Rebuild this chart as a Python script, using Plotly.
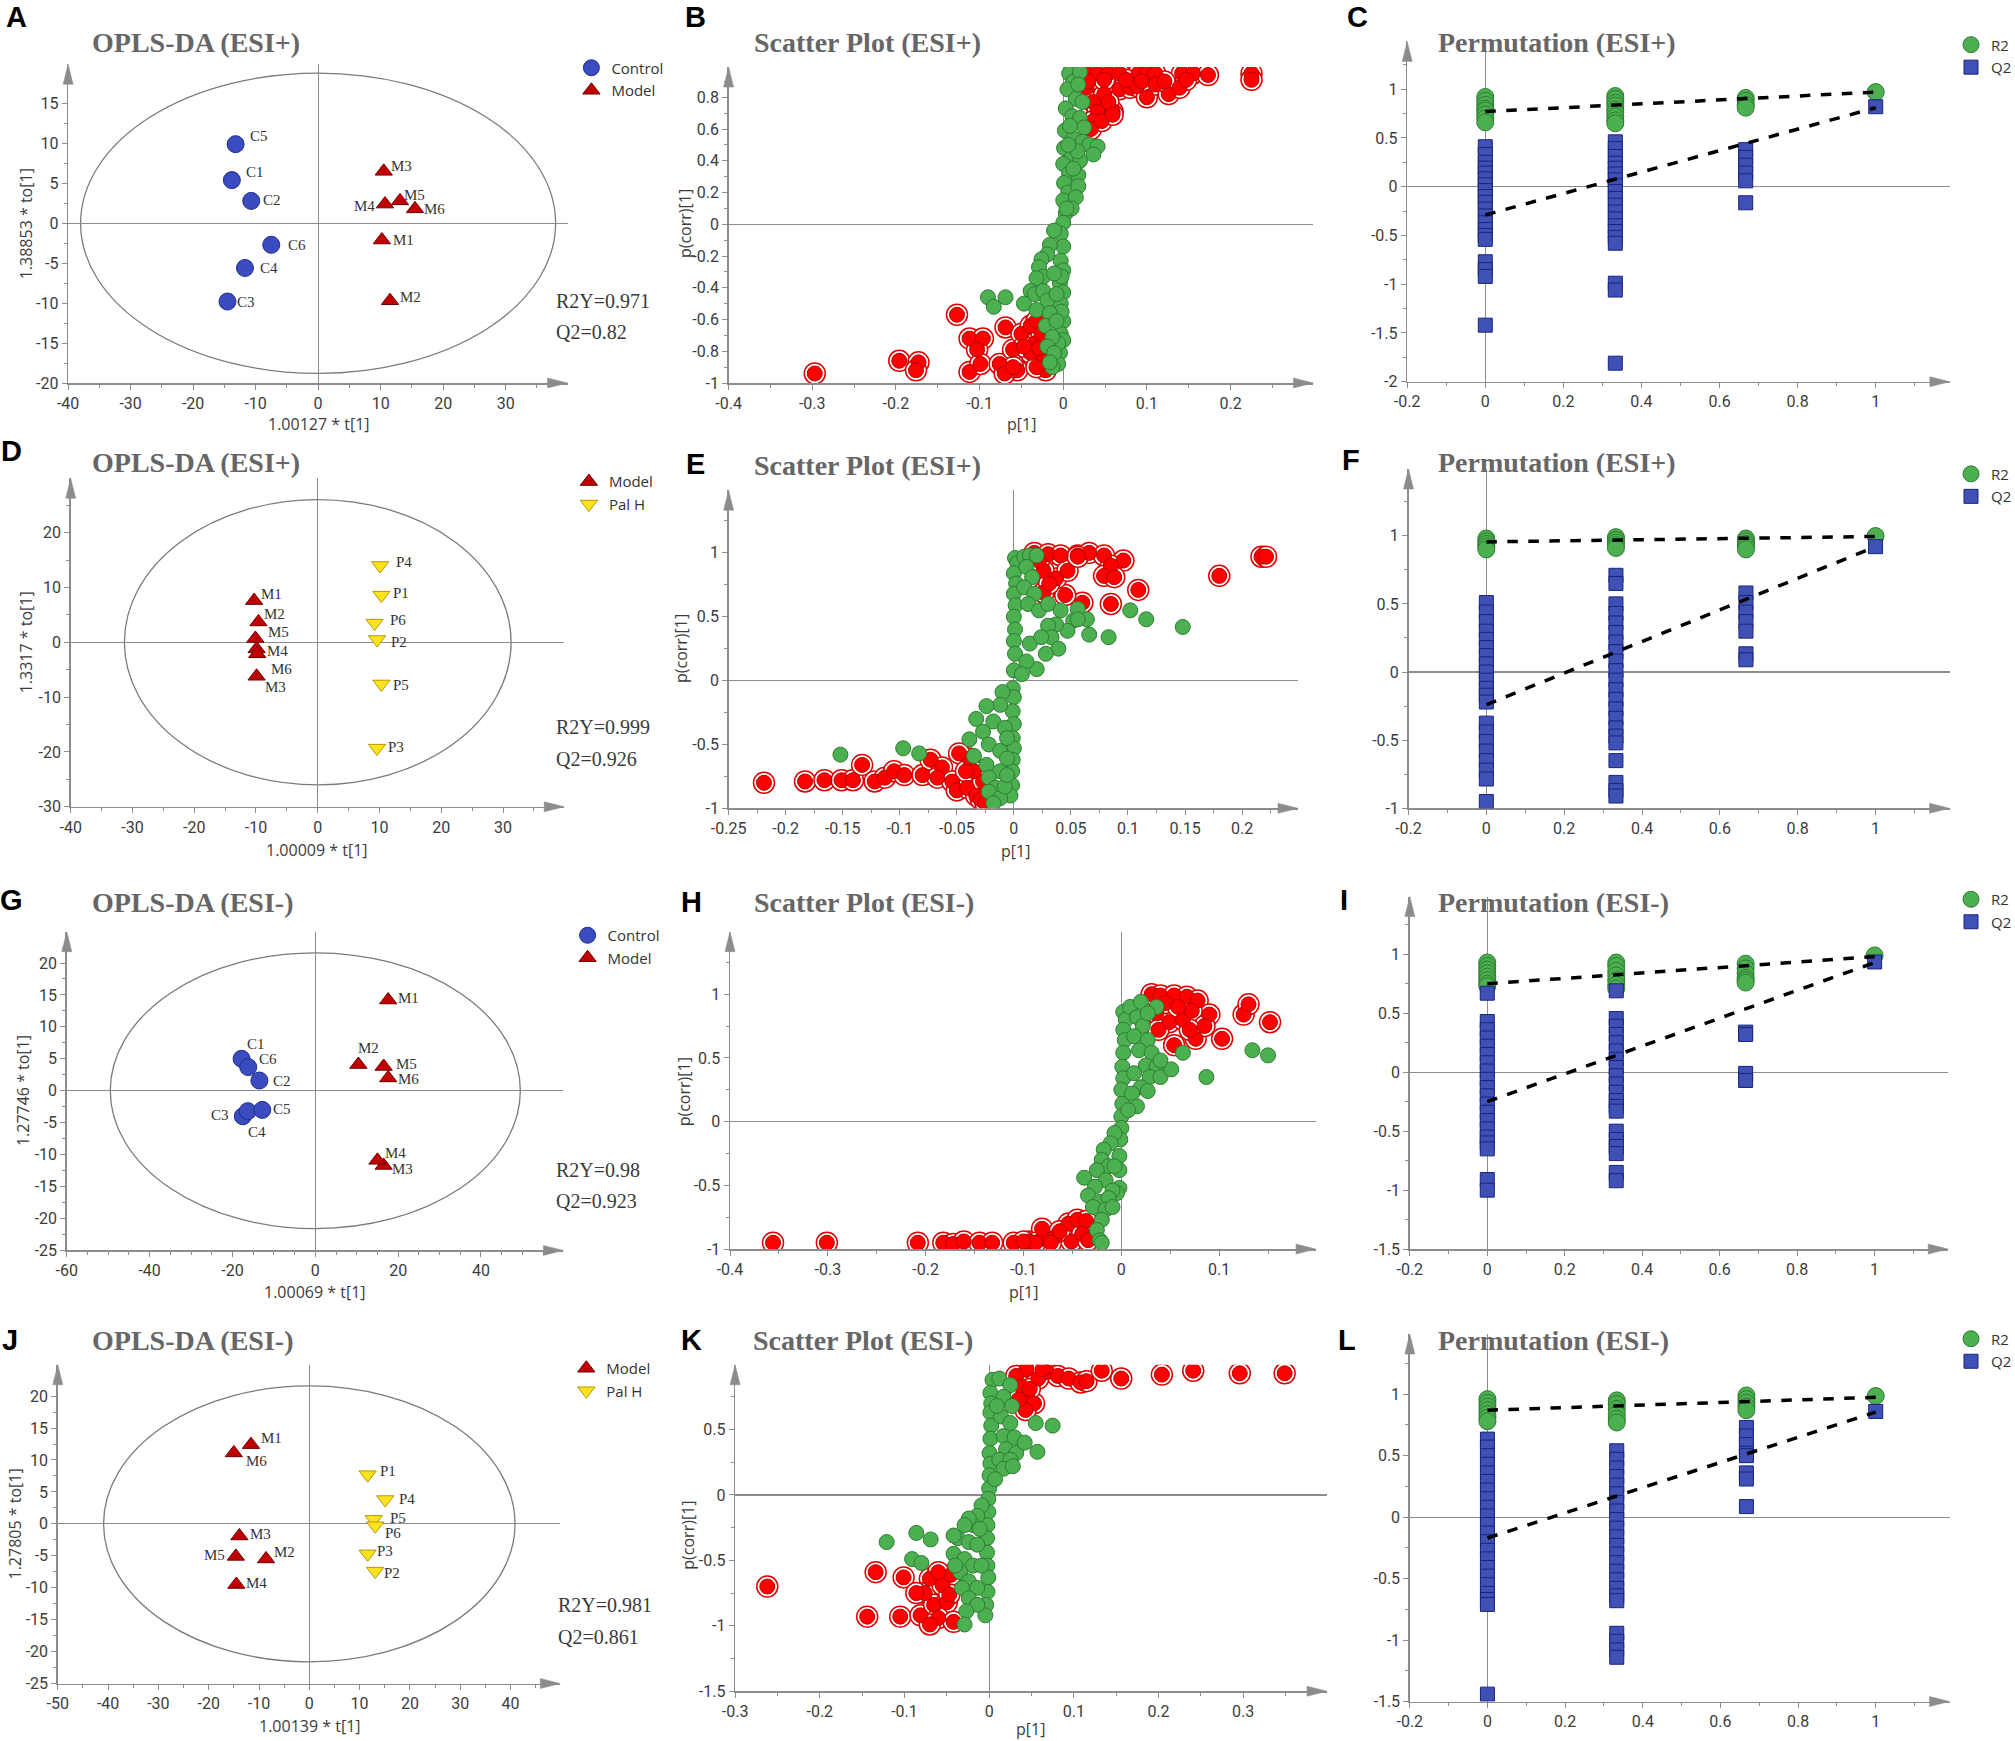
import plotly.graph_objects as go

W, H = 2015, 1741

# ======================= DATA =======================
# ---- Panel A : OPLS-DA (ESI+)  Control vs Model ----
A_ctrl_lab = ["C1", "C2", "C3", "C4", "C5", "C6"]
A_ctrl_x = [-13.8, -10.7, -14.5, -11.7, -13.2, -7.5]
A_ctrl_y = [5.4, 2.8, -9.8, -5.6, 9.9, -2.7]
A_mod_lab = ["M1", "M2", "M3", "M4", "M5", "M6"]
A_mod_x = [10.2, 11.5, 10.5, 10.7, 13.1, 15.5]
A_mod_y = [-2.1, -9.7, 6.5, 2.4, 2.8, 1.8]
A_ellipse = [38.0, 18.8]
A_stats = ["R2Y=0.971", "Q2=0.82"]

# ---- Panel D : OPLS-DA (ESI+)  Model vs Pal H ----
D_mod_lab = ["M1", "M2", "M3", "M4", "M5", "M6"]
D_mod_x = [-10.3, -9.6, -9.9, -9.9, -10.1, -9.8]
D_mod_y = [7.6, 3.7, -6.2, -1.2, 0.7, -2.1]
D_pal_lab = ["P1", "P2", "P3", "P4", "P5", "P6"]
D_pal_x = [10.3, 9.6, 9.6, 10.1, 10.3, 9.2]
D_pal_y = [8.6, 0.5, -19.3, 14.0, -7.6, 3.5]
D_ellipse = [31.3, 26.0]
D_stats = ["R2Y=0.999", "Q2=0.926"]

# ---- Panel G : OPLS-DA (ESI-)  Control vs Model ----
G_ctrl_lab = ["C1", "C2", "C3", "C4", "C5", "C6"]
G_ctrl_x = [-17.8, -13.5, -17.5, -16.3, -12.8, -16.2]
G_ctrl_y = [5.0, 1.6, -4.0, -3.2, -3.0, 3.7]
G_mod_lab = ["M1", "M2", "M3", "M4", "M5", "M6"]
G_mod_x = [17.6, 10.4, 16.5, 15.0, 16.5, 17.6]
G_mod_y = [14.2, 4.1, -11.7, -10.9, 3.8, 2.0]
G_ellipse = [49.5, 21.6]
G_stats = ["R2Y=0.98", "Q2=0.923"]

# ---- Panel J : OPLS-DA (ESI-)  Model vs Pal H ----
J_mod_lab = ["M1", "M2", "M3", "M4", "M5", "M6"]
J_mod_x = [-11.6, -8.6, -13.9, -14.5, -14.6, -15.0]
J_mod_y = [12.4, -5.5, -1.9, -9.5, -5.1, 11.1]
J_pal_lab = ["P1", "P2", "P3", "P4", "P5", "P6"]
J_pal_x = [11.6, 13.1, 11.6, 15.1, 12.8, 13.1]
J_pal_y = [7.7, -7.4, -4.7, 3.8, 0.7, -0.3]
J_ellipse = [40.9, 21.6]
J_stats = ["R2Y=0.981", "Q2=0.861"]

# ---- S-plots: (p[1], p(corr)[1]) ----
B_green = [(0.007, 0.95), (0.012, 0.90), (0.005, 0.85), (0.015, 0.79), (0.003, 0.73), (0.011, 0.68),
           (0.002, 0.59), (0.012, 0.54), (0.001, 0.48), (0.010, 0.42), (0.000, 0.38), (0.007, 0.32),
           (0.001, 0.26), (0.006, 0.20), (0.000, 0.15), (0.003, 0.07), (0.000, 0.01), (-0.003, -0.06),
           (0.000, -0.14), (-0.003, -0.23), (0.000, -0.29), (-0.004, -0.37), (0.000, -0.43), (-0.003, -0.50),
           (0.000, -0.61), (-0.003, -0.69), (0.000, -0.73), (-0.004, -0.81), (-0.006, -0.88), (-0.013, -0.90),
           (0.020, 0.96), (0.018, 0.88), (0.023, 0.77), (0.020, 0.67), (0.025, 0.61), (0.023, 0.52),
           (0.031, 0.50), (0.041, 0.49), (0.036, 0.44), (0.020, 0.40), (0.018, 0.31), (0.018, 0.24),
           (0.015, 0.17), (0.010, 0.10), (0.012, 0.35), (0.017, 0.46), (0.008, 0.62), (0.006, 0.50),
           (0.004, 0.10), (-0.002, -0.33), (-0.002, -0.55), (-0.006, -0.75),
           (-0.011, -0.04), (-0.016, -0.13), (-0.019, -0.19), (-0.026, -0.22), (-0.029, -0.27), (-0.024, -0.33),
           (-0.032, -0.34), (-0.039, -0.42), (-0.034, -0.44), (-0.024, -0.42), (-0.019, -0.48), (-0.047, -0.50),
           (-0.032, -0.54), (-0.016, -0.56), (-0.021, -0.64), (-0.013, -0.71), (-0.019, -0.77), (-0.011, -0.81),
           (-0.016, -0.87), (-0.008, -0.61), (-0.011, -0.31), (-0.008, -0.44),
           (-0.090, -0.46), (-0.083, -0.52), (-0.069, -0.46)]
B_red = [(0.028, 0.95), (0.041, 0.95), (0.054, 0.95), (0.067, 0.95), (0.090, 0.95), (0.100, 0.95),
         (0.110, 0.95), (0.142, 0.95), (0.155, 0.95), (0.173, 0.94), (0.225, 0.95), (0.225, 0.91),
         (0.028, 0.86), (0.036, 0.77), (0.041, 0.71), (0.036, 0.65), (0.033, 0.60), (0.059, 0.71),
         (0.067, 0.85), (0.080, 0.86), (0.088, 0.87), (0.100, 0.80), (0.110, 0.88), (0.126, 0.82),
         (0.139, 0.86), (0.049, 0.82), (0.054, 0.77), (0.046, 0.65), (0.059, 0.69), (0.030, 0.90),
         (0.049, 0.91), (0.075, 0.91), (0.094, 0.90), (0.121, 0.90), (0.147, 0.91),
         (-0.297, -0.94), (-0.196, -0.86), (-0.173, -0.87), (-0.176, -0.92), (-0.127, -0.57), (-0.112, -0.72),
         (-0.096, -0.72), (-0.103, -0.79), (-0.112, -0.93), (-0.099, -0.88), (-0.069, -0.65), (-0.076, -0.88),
         (-0.060, -0.79), (-0.055, -0.92), (-0.070, -0.94), (-0.050, -0.69), (-0.039, -0.64), (-0.032, -0.61),
         (-0.034, -0.75), (-0.026, -0.69), (-0.024, -0.86), (-0.021, -0.92), (-0.039, -0.81), (-0.047, -0.77),
         (-0.032, -0.90), (-0.029, -0.78), (-0.060, -0.90)]

E_green = [(0.001, 0.96), (0.003, 0.92), (0.000, 0.84), (0.002, 0.76), (0.000, 0.68), (0.0015, 0.59),
           (0.000, 0.50), (0.001, 0.40), (0.000, 0.31), (0.001, 0.21), (0.000, 0.08), (-0.001, -0.06),
           (0.000, -0.13), (-0.001, -0.24), (0.000, -0.34), (-0.001, -0.45), (0.000, -0.53), (-0.001, -0.62),
           (-0.0015, -0.71), (-0.0015, -0.82), (-0.003, -0.90),
           (0.009, 0.97), (0.014, 0.98), (0.020, 0.98), (0.011, 0.89), (0.016, 0.81), (0.009, 0.73),
           (0.018, 0.68), (0.0125, 0.60), (0.022, 0.55), (0.030, 0.60), (0.041, 0.55), (0.056, 0.56),
           (0.064, 0.48), (0.052, 0.47), (0.047, 0.39), (0.037, 0.44), (0.030, 0.43), (0.033, 0.34),
           (0.039, 0.25), (0.028, 0.21), (0.020, 0.09), (0.014, 0.29), (0.011, 0.15), (0.007, 0.05),
           (0.024, 0.34), (0.066, 0.36), (0.056, 0.48), (0.083, 0.34), (0.102, 0.55), (0.116, 0.48),
           (0.148, 0.42),
           (-0.010, -0.09), (-0.012, -0.19), (-0.024, -0.20), (-0.033, -0.30), (-0.018, -0.32), (-0.008, -0.37),
           (-0.027, -0.40), (-0.039, -0.46), (-0.022, -0.50), (-0.012, -0.55), (-0.035, -0.59), (-0.024, -0.66),
           (-0.012, -0.71), (-0.022, -0.76), (-0.016, -0.84), (-0.022, -0.87), (-0.012, -0.92), (-0.018, -0.96),
           (-0.008, -0.83), (-0.006, -0.74), (-0.006, -0.61), (-0.006, -0.45),
           (-0.152, -0.58), (-0.097, -0.53), (-0.083, -0.57)]
E_red = [(0.018, 1.00), (0.030, 0.99), (0.041, 0.98), (0.056, 0.98), (0.066, 1.00), (0.079, 0.98),
         (0.096, 0.94), (0.085, 0.90), (0.079, 0.82), (0.088, 0.81), (0.109, 0.71), (0.085, 0.60),
         (0.060, 0.61), (0.045, 0.67), (0.026, 0.69), (0.037, 0.80), (0.047, 0.86), (0.026, 0.86),
         (0.022, 0.94), (0.056, 0.97), (0.031, 0.76), (0.180, 0.82), (0.217, 0.97), (0.221, 0.97),
         (-0.219, -0.80), (-0.183, -0.79), (-0.166, -0.78), (-0.151, -0.78), (-0.141, -0.78), (-0.133, -0.66),
         (-0.122, -0.79), (-0.113, -0.76), (-0.105, -0.71), (-0.096, -0.74), (-0.080, -0.74), (-0.073, -0.62),
         (-0.063, -0.68), (-0.067, -0.76), (-0.054, -0.79), (-0.050, -0.86), (-0.041, -0.84), (-0.039, -0.61),
         (-0.035, -0.71), (-0.033, -0.90), (-0.029, -0.93), (-0.025, -0.96), (-0.048, -0.57), (-0.042, -0.71),
         (-0.027, -0.79)]

H_green = [(0.002, 0.86), (0.0045, 0.80), (0.002, 0.72), (0.0035, 0.64), (0.002, 0.54), (0.001, 0.43),
           (0.002, 0.34), (0.000, 0.25), (0.001, 0.14), (0.000, 0.04), (0.000, -0.05), (-0.001, -0.14),
           (-0.002, -0.27), (-0.002, -0.38), (-0.002, -0.52), (-0.0045, -0.56),
           (0.009, 0.90), (0.020, 0.94), (0.016, 0.82), (0.022, 0.75), (0.013, 0.67), (0.027, 0.64),
           (0.018, 0.56), (0.031, 0.54), (0.025, 0.44), (0.036, 0.43), (0.013, 0.38), (0.029, 0.35),
           (0.020, 0.27), (0.027, 0.24), (0.011, 0.22), (0.016, 0.12), (0.007, 0.09), (0.040, 0.35),
           (0.051, 0.41), (0.040, 0.48), (0.063, 0.54), (0.087, 0.35), (0.134, 0.56), (0.150, 0.52),
           (0.036, 0.90), (0.027, 0.85),
           (-0.007, -0.09), (-0.011, -0.17), (-0.018, -0.22), (-0.020, -0.30), (-0.013, -0.35), (-0.025, -0.38),
           (-0.038, -0.44), (-0.016, -0.46), (-0.027, -0.51), (-0.009, -0.54), (-0.034, -0.58), (-0.022, -0.63),
           (-0.013, -0.60), (-0.029, -0.67), (-0.016, -0.69), (-0.020, -0.77), (-0.025, -0.85), (-0.022, -0.93),
           (-0.020, -0.95), (-0.009, -0.67), (-0.007, -0.35)]
H_red = [(-0.356, -0.95), (-0.301, -0.95), (-0.208, -0.95), (-0.182, -0.95), (-0.172, -0.96), (-0.161, -0.94),
         (-0.145, -0.95), (-0.132, -0.95), (-0.110, -0.95), (-0.094, -0.94), (-0.081, -0.92), (-0.081, -0.84),
         (-0.067, -0.90), (-0.054, -0.80), (-0.045, -0.77), (-0.036, -0.78), (-0.051, -0.94), (-0.063, -0.86),
         (-0.040, -0.88), (-0.034, -0.93), (-0.072, -0.95), (-0.088, -0.95), (-0.100, -0.94),
         (0.031, 1.00), (0.040, 0.99), (0.054, 0.99), (0.067, 0.98), (0.078, 0.95), (0.090, 0.84),
         (0.103, 0.65), (0.076, 0.65), (0.054, 0.60), (0.049, 0.78), (0.063, 0.80), (0.036, 0.85),
         (0.072, 0.87), (0.045, 0.93), (0.058, 0.90), (0.085, 0.75), (0.070, 0.72), (0.038, 0.72),
         (0.125, 0.84), (0.130, 0.92), (0.152, 0.78)]

K_green = [(0.004, 0.88), (0.0015, 0.78), (0.0025, 0.70), (0.0015, 0.63), (0.0025, 0.53), (0.0015, 0.43),
           (0.0005, 0.32), (0.0015, 0.24), (0.0005, 0.15), (0.000, 0.05), (-0.001, -0.03), (-0.001, -0.13),
           (-0.002, -0.23), (-0.0025, -0.33), (-0.0025, -0.44), (-0.002, -0.54), (-0.001, -0.63), (-0.002, -0.74),
           (-0.0035, -0.84), (-0.0045, -0.92),
           (0.012, 0.89), (0.025, 0.84), (0.017, 0.75), (0.027, 0.68), (0.014, 0.60), (0.025, 0.55),
           (0.017, 0.45), (0.030, 0.44), (0.020, 0.35), (0.032, 0.32), (0.012, 0.27), (0.025, 0.27),
           (0.017, 0.20), (0.007, 0.12), (0.028, 0.22), (0.055, 0.55), (0.075, 0.53), (0.042, 0.40),
           (0.057, 0.33), (0.009, 0.68),
           (-0.009, -0.08), (-0.014, -0.16), (-0.019, -0.23), (-0.024, -0.18), (-0.029, -0.23), (-0.037, -0.33),
           (-0.042, -0.31), (-0.024, -0.36), (-0.014, -0.38), (-0.042, -0.45), (-0.029, -0.49), (-0.019, -0.54),
           (-0.034, -0.59), (-0.024, -0.66), (-0.014, -0.71), (-0.032, -0.71), (-0.024, -0.79), (-0.014, -0.84),
           (-0.027, -0.89), (-0.029, -0.99), (-0.009, -0.54), (-0.011, -0.26), (-0.040, -0.54),
           (-0.121, -0.36), (-0.086, -0.29), (-0.069, -0.34), (-0.091, -0.49), (-0.080, -0.52)]
K_red = [(0.044, 0.96), (0.068, 0.94), (0.081, 0.91), (0.094, 0.89), (0.108, 0.86), (0.115, 0.87),
         (0.133, 0.95), (0.156, 0.89), (0.204, 0.92), (0.241, 0.95), (0.296, 0.93), (0.349, 0.93),
         (0.032, 0.91), (0.038, 0.83), (0.045, 0.75), (0.053, 0.70), (0.043, 0.65), (0.058, 0.89),
         (0.035, 0.73), (0.063, 0.96), (0.048, 0.81),
         (-0.262, -0.70), (-0.144, -0.93), (-0.105, -0.93), (-0.134, -0.59), (-0.101, -0.63), (-0.081, -0.92),
         (-0.070, -0.64), (-0.076, -0.75), (-0.065, -0.84), (-0.055, -0.69), (-0.050, -0.82), (-0.060, -0.94),
         (-0.045, -0.61), (-0.042, -0.97), (-0.070, -0.99), (-0.086, -0.75), (-0.047, -0.76), (-0.060, -0.59)]

# ---- Permutation tests (R2 / Q2 at retained-correlation positions) ----
PERM_X = [0.0, 0.333, 0.667, 1.0]
C_R2 = [[0.92, 0.88, 0.84, 0.80, 0.78, 0.74, 0.70, 0.66],
        [0.93, 0.90, 0.86, 0.83, 0.79, 0.76, 0.72, 0.68, 0.65],
        [0.91, 0.88, 0.84, 0.81],
        [0.97]]
C_Q2 = [[0.41, 0.33, 0.25, 0.19, 0.14, 0.08, 0.02, -0.04, -0.10, -0.16, -0.23, -0.30, -0.37, -0.44, -0.50,
         -0.54, -0.77, -0.85, -0.92, -1.42],
        [0.46, 0.39, 0.31, 0.24, 0.19, 0.13, 0.07, 0.01, -0.05, -0.12, -0.19, -0.26, -0.33, -0.40, -0.46,
         -0.52, -0.58, -0.99, -1.06, -1.81],
        [0.38, 0.30, 0.22, 0.14, 0.06, -0.165],
        [0.82]]
C_R2_line = [0.77, 0.97]
C_Q2_line = [-0.29, 0.81]

F_R2 = [[0.98, 0.96, 0.94, 0.92, 0.90],
        [0.99, 0.97, 0.95, 0.93, 0.91],
        [0.98, 0.96, 0.94, 0.92, 0.90],
        [0.998]]
F_Q2 = [[0.51, 0.44, 0.37, 0.30, 0.24, 0.18, 0.12, 0.06, 0.0, -0.06, -0.12, -0.17, -0.22,
         -0.375, -0.44, -0.51, -0.58, -0.65, -0.72, -0.785, -0.95],
        [0.71, 0.65, 0.50, 0.43, 0.36, 0.29, 0.22, 0.15, 0.08, 0.01, -0.06, -0.13, -0.20, -0.27, -0.34,
         -0.41, -0.47, -0.52, -0.65, -0.81, -0.87, -0.91],
        [0.58, 0.51, 0.44, 0.37, 0.30, 0.134, 0.09],
        [0.92]]
F_R2_line = [0.955, 0.995]
F_Q2_line = [-0.24, 0.92]

I_R2 = [[0.93, 0.90, 0.87, 0.84, 0.81, 0.78, 0.75, 0.73],
        [0.93, 0.90, 0.86, 0.82, 0.78, 0.74, 0.71],
        [0.92, 0.88, 0.84, 0.80, 0.78, 0.76],
        [0.99]]
I_Q2 = [[0.67, 0.43, 0.36, 0.29, 0.22, 0.15, 0.08, 0.01, -0.06, -0.13, -0.20, -0.27, -0.34, -0.41, -0.48,
         -0.55, -0.60, -0.65, -0.91, -1.0],
        [0.69, 0.455, 0.39, 0.32, 0.25, 0.18, 0.11, 0.04, -0.03, -0.10, -0.17, -0.24, -0.29, -0.33,
         -0.50, -0.57, -0.63, -0.69, -0.85, -0.92],
        [0.34, 0.32, -0.01, -0.07],
        [0.935]]
I_R2_line = [0.75, 0.98]
I_Q2_line = [-0.25, 0.93]

L_R2 = [[0.96, 0.93, 0.90, 0.87, 0.84, 0.81, 0.78],
        [0.95, 0.92, 0.88, 0.84, 0.80, 0.77],
        [0.99, 0.96, 0.93, 0.90, 0.87],
        [0.985]]
L_Q2 = [[0.635, 0.57, 0.50, 0.43, 0.36, 0.29, 0.22, 0.15, 0.08, 0.01, -0.06, -0.13, -0.20, -0.27, -0.34,
         -0.41, -0.48, -0.55, -0.62, -0.67, -0.71, -1.44],
        [0.54, 0.47, 0.40, 0.33, 0.26, 0.19, 0.12, 0.05, -0.02, -0.09, -0.16, -0.23, -0.30, -0.37, -0.44,
         -0.51, -0.58, -0.64, -0.68, -0.945, -1.01, -1.08, -1.14],
        [0.73, 0.66, 0.59, 0.52, 0.50, 0.36, 0.31, 0.086],
        [0.86]]
L_R2_line = [0.87, 0.975]
L_Q2_line = [-0.17, 0.855]

# ---- tick values ----
XT_A = [-40, -30, -20, -10, 0, 10, 20, 30]
YT_A = [-20, -15, -10, -5, 0, 5, 10, 15]
XT_B = [-0.4, -0.3, -0.2, -0.1, 0, 0.1, 0.2]
YT_B = [-1, -0.8, -0.6, -0.4, -0.2, 0, 0.2, 0.4, 0.6, 0.8]
XT_P = [-0.2, 0, 0.2, 0.4, 0.6, 0.8, 1]
YT_C = [-2, -1.5, -1, -0.5, 0, 0.5, 1]
YT_D = [-30, -20, -10, 0, 10, 20]
XT_E = [-0.25, -0.2, -0.15, -0.1, -0.05, 0, 0.05, 0.1, 0.15, 0.2]
YT_E = [-1, -0.5, 0, 0.5, 1]
XT_G = [-60, -40, -20, 0, 20, 40]
YT_G = [-25, -20, -15, -10, -5, 0, 5, 10, 15, 20]
XT_H = [-0.4, -0.3, -0.2, -0.1, 0, 0.1]
YT_I = [-1.5, -1, -0.5, 0, 0.5, 1]
XT_J = [-50, -40, -30, -20, -10, 0, 10, 20, 30, 40]
XT_K = [-0.3, -0.2, -0.1, 0, 0.1, 0.2, 0.3]
YT_K = [-1.5, -1, -0.5, 0, 0.5]

# ======================= STYLE =======================
AX = "#8c8c8c"
ZLC = "#8c8c8c"
TICKC = "#3c3c3c"
SANS = "Open Sans"
TICKF = "Roboto"
SERIF = "Liberation Serif"
BLUE, BLUE_D = "#3a4cc0", "#1f2d8a"
DRED, DRED_D = "#c00000", "#6e0000"
YEL, YEL_D = "#ffe31f", "#b39700"
GRN, GRN_D = "#4caf50", "#2e7d32"
RED, RED_D = "#ff0000", "#b40000"
QBL, QBL_D = "#3f51b5", "#1a237e"

# label offsets in pixels (dx right, dy up) -- styling only
A_ctrl_off = [(23, 8), (21, 1), (19, 0), (24, 0), (23, 8), (26, 0)]
A_mod_off = [(22, 0), (21, 4), (18, 5), (-20, -2), (15, 6), (20, 0)]
D_mod_off = [(17, 7), (16, 8), (19, -11), (21, -2), (23, 6), (24, -15)]
D_pal_off = [(20, 2), (22, -2), (19, 1), (24, 4), (20, -1), (23, 3)]
G_ctrl_off = [(14, 15), (23, 0), (-23, 1), (9, -21), (20, 1), (20, 8)]
G_mod_off = [(20, 2), (10, 17), (19, -4), (18, 7), (23, 2), (20, -1)]
J_mod_off = [(21, 7), (18, 7), (21, 2), (20, 2), (-21, 1), (23, -8)]
J_pal_off = [(20, 4), (17, -2), (17, 3), (22, 1), (24, 1), (18, -7)]

fig = go.Figure()
LAY = {}
ANN = []
SHP = []


def fmt(v):
    return f"{v:g}"


def ids(i):
    s = "" if i == 1 else str(i)
    return s, "x" + s, "y" + s


def setup(i, box, xr, yr, xt, yt, xmn, ymn):
    s, xid, yid = ids(i)
    l, t, r, b = box
    common = dict(showgrid=False, showline=True, linecolor=AX, linewidth=1.5,
                  ticks="outside", ticklen=5, tickwidth=1, tickcolor=AX,
                  tickfont=dict(family=TICKF, size=16, color=TICKC),
                  zeroline=True, zerolinecolor=ZLC, zerolinewidth=1.2,
                  fixedrange=True, layer="below traces", automargin=False)
    LAY["xaxis" + s] = dict(domain=[l / W, r / W], range=xr, anchor=yid,
                            tickmode="array", tickvals=xt, ticktext=[fmt(v) for v in xt],
                            minor=dict(tickmode="linear", tick0=xt[0], dtick=xmn, ticks="outside",
                                       ticklen=3, tickcolor=AX, tickwidth=1), **common)
    LAY["yaxis" + s] = dict(domain=[1 - b / H, 1 - t / H], range=yr, anchor=xid,
                            tickmode="array", tickvals=yt, ticktext=[fmt(v) for v in yt],
                            minor=dict(tickmode="linear", tick0=yt[0], dtick=ymn, ticks="outside",
                                       ticklen=3, tickcolor=AX, tickwidth=1), **common)
    # arrowheads (paper coordinates)
    xr_, yb = r / W, 1 - b / H
    SHP.append(dict(type="path", xref="paper", yref="paper",
                    path=f"M {xr_},{yb} L {(r - 20) / W},{1 - (b - 5) / H} L {(r - 20) / W},{1 - (b + 5) / H} Z",
                    fillcolor=AX, line=dict(color=AX, width=0.5)))
    xl, yt_ = l / W, 1 - t / H
    SHP.append(dict(type="path", xref="paper", yref="paper",
                    path=f"M {xl},{yt_} L {(l - 5) / W},{1 - (t + 20) / H} L {(l + 5) / W},{1 - (t + 20) / H} Z",
                    fillcolor=AX, line=dict(color=AX, width=0.5)))
    return xid, yid


def txt(s, x, y, size, color, family, xanchor="left", yanchor="middle", angle=0):
    ANN.append(dict(text=s, x=x / W, y=1 - y / H, xref="paper", yref="paper", showarrow=False,
                    xanchor=xanchor, yanchor=yanchor, textangle=angle,
                    font=dict(family=family, size=size, color=color)))


def opls(i, box, xr, yr, xt, yt, xmn, ymn, groups, ell, legend):
    xid, yid = setup(i, box, xr, yr, xt, yt, xmn, ymn)
    SHP.append(dict(type="circle", xref=xid, yref=yid, x0=-ell[0], x1=ell[0], y0=-ell[1], y1=ell[1],
                    line=dict(color="#7a7a7a", width=1.3), layer="below"))
    for name, gx, gy, lab, off, sym, col, lcol, sz in groups:
        fig.add_trace(go.Scatter(x=gx, y=gy, mode="markers", name=name, legend=legend,
                                 marker=dict(symbol=sym, size=sz, color=col, line=dict(color=lcol, width=1)),
                                 xaxis=xid, yaxis=yid, hoverinfo="skip"))
        for xv, yv, s, (dx, dy) in zip(gx, gy, lab, off):
            ANN.append(dict(x=xv, y=yv, xref=xid, yref=yid, text=s, showarrow=False,
                            xshift=dx, yshift=dy, xanchor="center", yanchor="middle",
                            font=dict(family=SERIF, size=15, color="#333333")))


def splot(i, box, xr, yr, xt, yt, xmn, ymn, green, red):
    xid, yid = setup(i, box, xr, yr, xt, yt, xmn, ymn)
    rx = [p[0] for p in red]
    ry = [p[1] for p in red]
    gx = [p[0] for p in green]
    gy = [p[1] for p in green]
    fig.add_trace(go.Scatter(x=rx, y=ry, mode="markers", showlegend=False, hoverinfo="skip",
                             marker=dict(size=21, color="white", line=dict(color="#e00000", width=1.5)),
                             xaxis=xid, yaxis=yid))
    fig.add_trace(go.Scatter(x=rx, y=ry, mode="markers", showlegend=False, hoverinfo="skip",
                             marker=dict(size=15, color=RED, line=dict(color=RED_D, width=1)),
                             xaxis=xid, yaxis=yid))
    fig.add_trace(go.Scatter(x=gx, y=gy, mode="markers", showlegend=False, hoverinfo="skip",
                             marker=dict(size=15, color=GRN, line=dict(color=GRN_D, width=1)),
                             xaxis=xid, yaxis=yid))


def perm(i, box, yr, yt, r2, q2, r2line, q2line, legend):
    xid, yid = setup(i, box, [-0.2, 1.19], yr, XT_P, yt, 0.1, 0.25)
    qx, qy, rx, ry = [], [], [], []
    for px, vals in zip(PERM_X, q2):
        qx += [px] * len(vals)
        qy += vals
    for px, vals in zip(PERM_X, r2):
        rx += [px] * len(vals)
        ry += vals
    fig.add_trace(go.Scatter(x=rx, y=ry, mode="markers", name="R2", legend=legend, hoverinfo="skip",
                             marker=dict(symbol="circle", size=17, color=GRN, line=dict(color=GRN_D, width=1)),
                             xaxis=xid, yaxis=yid))
    fig.add_trace(go.Scatter(x=qx, y=qy, mode="markers", name="Q2", legend=legend, hoverinfo="skip",
                             marker=dict(symbol="square", size=14, color=QBL, line=dict(color=QBL_D, width=1)),
                             xaxis=xid, yaxis=yid))
    for ln in (r2line, q2line):
        fig.add_trace(go.Scatter(x=[PERM_X[0], PERM_X[-1]], y=ln, mode="lines", showlegend=False,
                                 hoverinfo="skip", line=dict(color="black", width=3.5, dash="dash"),
                                 xaxis=xid, yaxis=yid))


# ---------------- build panels ----------------
opls(1, (68.1, 64.3, 567.5, 383.0), [-40, 39.9], [-20, 19.9], XT_A, YT_A, 5, 2.5,
     [("Control", A_ctrl_x, A_ctrl_y, A_ctrl_lab, A_ctrl_off, "circle", BLUE, BLUE_D, 17),
      ("Model", A_mod_x, A_mod_y, A_mod_lab, A_mod_off, "triangle-up", DRED, DRED_D, 15)],
     A_ellipse, "legend")
splot(2, (728.6, 67.1, 1313.4, 383.0), [-0.4, 0.299], [-1, 0.99], XT_B, YT_B, 0.05, 0.1, B_green, B_red)
perm(3, (1407.2, 41.4, 1949.9, 381.7), [-2, 1.49], YT_C, C_R2, C_Q2, C_R2_line, C_Q2_line, "legend2")

opls(4, (70.7, 478.3, 564.2, 806.8), [-40, 39.9], [-30, 29.9], XT_A, YT_D, 5, 5,
     [("Model", D_mod_x, D_mod_y, D_mod_lab, D_mod_off, "triangle-up", DRED, DRED_D, 15),
      ("Pal H", D_pal_x, D_pal_y, D_pal_lab, D_pal_off, "triangle-down", YEL, YEL_D, 15)],
     D_ellipse, "legend3")
splot(5, (728.6, 490.3, 1298.0, 808.3), [-0.25, 0.249], [-1, 1.49], XT_E, YT_E, 0.025, 0.25, E_green, E_red)
perm(6, (1408.5, 469.0, 1949.5, 808.3), [-1, 1.49], YT_E, F_R2, F_Q2, F_R2_line, F_Q2_line, "legend4")

opls(7, (66.8, 931.7, 563.4, 1250.4), [-60, 59.9], [-25, 24.9], XT_G, YT_G, 5, 2.5,
     [("Control", G_ctrl_x, G_ctrl_y, G_ctrl_lab, G_ctrl_off, "circle", BLUE, BLUE_D, 17),
      ("Model", G_mod_x, G_mod_y, G_mod_lab, G_mod_off, "triangle-up", DRED, DRED_D, 15)],
     G_ellipse, "legend5")
splot(8, (730.0, 931.7, 1316.0, 1249.1), [-0.4, 0.199], [-1, 1.49], XT_H, YT_E, 0.05, 0.25, H_green, H_red)
perm(9, (1409.8, 896.5, 1948.2, 1249.1), [-1.5, 1.49], YT_I, I_R2, I_Q2, I_R2_line, I_Q2_line, "legend6")

opls(10, (57.8, 1364.8, 560.3, 1683.5), [-50, 49.9], [-25, 24.9], XT_J, YT_G, 5, 2.5,
     [("Model", J_mod_x, J_mod_y, J_mod_lab, J_mod_off, "triangle-up", DRED, DRED_D, 15),
      ("Pal H", J_pal_x, J_pal_y, J_pal_lab, J_pal_off, "triangle-down", YEL, YEL_D, 15)],
     J_ellipse, "legend7")
splot(11, (735.1, 1364.8, 1327.0, 1691.2), [-0.3, 0.399], [-1.5, 0.995], XT_K, YT_K, 0.05, 0.25, K_green, K_red)
perm(12, (1409.8, 1334.0, 1949.5, 1701.5), [-1.5, 1.49], YT_I, L_R2, L_Q2, L_R2_line, L_Q2_line, "legend8")

# ---------------- texts ----------------
letters = [("A", 16.7, 16.7), ("B", 695, 16.7), ("C", 1357, 16.7),
           ("D", 11.6, 451), ("E", 695, 464), ("F", 1350.6, 460),
           ("G", 11.6, 899.6), ("H", 691.4, 902), ("I", 1344, 899.6),
           ("J", 10.3, 1340.4), ("K", 691.4, 1340.4), ("L", 1346.8, 1340.4)]
for s, x, y in letters:
    txt(f"<b>{s}</b>", x, y, 29, "black", "Liberation Sans", xanchor="center")

titles = [("OPLS-DA (ESI+)", 90, 42.4), ("Scatter Plot (ESI+)", 751.8, 42.4), ("Permutation (ESI+)", 1435.5, 42.4),
          ("OPLS-DA (ESI+)", 90, 462.6), ("Scatter Plot (ESI+)", 751.8, 465.2), ("Permutation (ESI+)", 1435.5, 462.6),
          ("OPLS-DA (ESI-)", 90, 902), ("Scatter Plot (ESI-)", 751.8, 902), ("Permutation (ESI-)", 1435.5, 902),
          ("OPLS-DA (ESI-)", 90, 1340.4), ("Scatter Plot (ESI-)", 750.5, 1340.4), ("Permutation (ESI-)", 1435.5, 1340.4)]
for s, x, y in titles:
    txt(f"<b>{s}</b>", x, y, 28, "#666666", SERIF)

for stats, x, y in [(A_stats, 553.9, 300.7), (D_stats, 553.9, 727.4), (G_stats, 553.9, 1169.5), (J_stats, 556.4, 1605.1)]:
    txt(stats[0], x, y, 20, "#3a3a3a", SERIF)
    txt(stats[1], x, y + 31.5, 20, "#3a3a3a", SERIF)

xtitles = [("1.00127 * t[1]", 318.7, 424), ("p[1]", 1021.7, 424), ("1.00009 * t[1]", 317.4, 849.5),
           ("p[1]", 1015.2, 850.7), ("1.00069 * t[1]", 314.9, 1291.5), ("p[1]", 1023, 1291.5),
           ("1.00139 * t[1]", 309.7, 1725.9), ("p[1]", 1030.7, 1728.5)]
for s, x, y in xtitles:
    txt(s, x, y, 16, TICKC, SANS, xanchor="center")
ytitles = [("1.38853 * to[1]", 25.7, 223.6), ("p(corr)[1]", 684.5, 223.6), ("1.3317 * to[1]", 25.7, 642.6),
           ("p(corr)[1]", 681.0, 649), ("1.27746 * to[1]", 23.1, 1091), ("p(corr)[1]", 684.0, 1092.3),
           ("1.27805 * to[1]", 15.4, 1524.1), ("p(corr)[1]", 688.0, 1535.7)]
for s, x, y in ytitles:
    txt(s, x, y, 16, TICKC, SANS, xanchor="center", angle=-90)

# ---------------- legends ----------------
leg_pos = {"legend": (592.4, 65.5), "legend2": (1972.0, 42.4), "legend3": (589.9, 479.3),
           "legend4": (1972.0, 471.6), "legend5": (588.6, 933), "legend6": (1972.0, 897),
           "legend7": (587.3, 1366), "legend8": (1972.0, 1336.5)}
for k, (sx, sy) in leg_pos.items():
    LAY[k] = dict(x=(sx - 21) / W, y=1 - (sy - 14) / H, xanchor="left", yanchor="top",
                  bgcolor="rgba(0,0,0,0)", borderwidth=0, itemsizing="trace", tracegroupgap=0,
                  font=dict(family=SANS, size=15, color="#333333"))

fig.update_layout(width=W, height=H, margin=dict(l=0, r=0, t=0, b=0, autoexpand=False),
                  paper_bgcolor="white", plot_bgcolor="white", showlegend=True,
                  annotations=ANN, shapes=SHP, **LAY)
fig.write_html("out.html", config={"displayModeBar": False, "staticPlot": True},
               post_script="document.body.style.margin='0px';document.body.style.padding='0px';"
                           "document.documentElement.style.overflow='hidden';")
